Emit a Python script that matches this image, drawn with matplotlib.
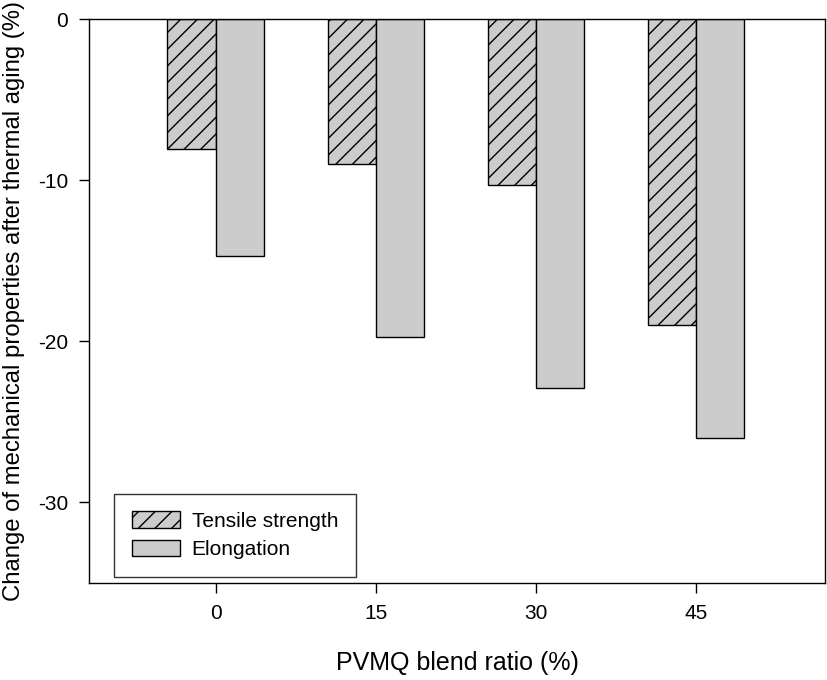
import matplotlib
matplotlib.use("Agg")
import matplotlib.pyplot as plt
import numpy as np

plt.rcParams['font.family'] = ['Liberation Sans', 'DejaVu Sans']
plt.rcParams['hatch.linewidth'] = 1.0

categories = ['0', '15', '30', '45']
tensile = [-8.05, -9.0, -10.3, -19.0]
elongation = [-14.7, -19.75, -22.9, -26.0]
yticks = [0, -10, -20, -30]

fig = plt.figure(figsize=(8.27, 6.8), dpi=100)
ax = fig.add_axes([0.1076, 0.1426, 0.89, 0.8294])

x = np.arange(len(categories))
w = 0.3
ax.bar(x - w/2, tensile, w, color='#cccccc', edgecolor='black', hatch='//',
       linewidth=1.0, label='Tensile strength')
ax.bar(x + w/2, elongation, w, color='#cccccc', edgecolor='black',
       linewidth=1.0, label='Elongation')

ax.set_xlim(-0.79, 3.805)
ax.set_ylim(-35, 0)
ax.set_xticks(x)
ax.set_xticklabels(categories)
ax.set_yticks(yticks)
ax.set_yticklabels([str(t) for t in yticks])
ax.tick_params(direction='out', length=7, width=1.0, labelsize=15, pad=8)
for s in ax.spines.values():
    s.set_linewidth(1.0)

ax.set_xlabel('PVMQ blend ratio (%)', fontsize=18, labelpad=20)
ax.set_ylabel('Change of mechanical properties after thermal aging (%)', fontsize=17.2, labelpad=9)

leg = ax.legend(loc='lower left', bbox_to_anchor=(0.034, 0.0106), borderaxespad=0,
                fontsize=15, frameon=True, fancybox=False, edgecolor='black',
                handlelength=2.3, handleheight=0.82, handletextpad=0.58,
                borderpad=0.85, labelspacing=0.45)
leg.get_frame().set_linewidth(1.0)

fig.savefig('out.png', dpi=100)
